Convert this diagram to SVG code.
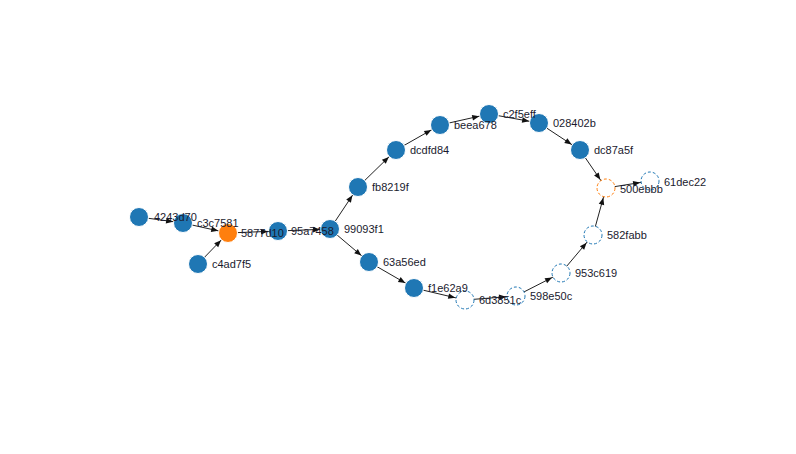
<svg xmlns="http://www.w3.org/2000/svg" width="796" height="454" viewBox="0 0 796 454">
<defs>
<marker id="arr" markerUnits="userSpaceOnUse" markerWidth="20" markerHeight="10" viewBox="0 -5 20 10" refX="17" refY="0" orient="auto" overflow="visible">
<path d="M0,-2.8L7,0L0,2.8Z" fill="#111"/>
</marker>
</defs>
<style>
.e{stroke:#222;stroke-width:1;fill:none;marker-end:url(#arr)}
.f{fill:#1f77b4;stroke:#fff;stroke-width:1}
.fo{fill:#ff7f0e;stroke:#fff;stroke-width:1}
.d{fill:#fff;stroke:#1f77b4;stroke-width:1;stroke-dasharray:3,2}
.do{fill:#fff;stroke:#ff7f0e;stroke-width:1;stroke-dasharray:3,2}
text{font-family:"Liberation Sans",Arial,sans-serif;font-size:11px;fill:#1a1a2e}
</style>
<rect width="796" height="454" fill="#fff"/>
<g id="edges">
<line class="e" x1="139" y1="217" x2="183" y2="223"/>
<line class="e" x1="183" y1="223" x2="228" y2="233"/>
<line class="e" x1="198" y1="264" x2="228" y2="233"/>
<line class="e" x1="228" y1="233" x2="278" y2="231"/>
<line class="e" x1="278" y1="231" x2="330" y2="229"/>
<line class="e" x1="330" y1="229" x2="358" y2="187"/>
<line class="e" x1="358" y1="187" x2="396" y2="150"/>
<line class="e" x1="396" y1="150" x2="440" y2="125"/>
<line class="e" x1="440" y1="125" x2="489" y2="114"/>
<line class="e" x1="489" y1="114" x2="539" y2="123"/>
<line class="e" x1="539" y1="123" x2="580" y2="150"/>
<line class="e" x1="580" y1="150" x2="606" y2="188"/>
<line class="e" x1="606" y1="188" x2="650" y2="181"/>
<line class="e" x1="593" y1="235" x2="606" y2="188"/>
<line class="e" x1="561" y1="273" x2="593" y2="235"/>
<line class="e" x1="516" y1="296" x2="561" y2="273"/>
<line class="e" x1="465" y1="300" x2="516" y2="296"/>
<line class="e" x1="414" y1="288" x2="465" y2="300"/>
<line class="e" x1="369" y1="262" x2="414" y2="288"/>
<line class="e" x1="330" y1="229" x2="369" y2="262"/>
</g>
<g id="n-99093f1"><circle class="f" cx="330" cy="229" r="9.5"/><text x="344" y="233">99093f1</text></g>
<g id="n-95a7458"><circle class="f" cx="278" cy="231" r="9.5"/><text x="291" y="235">95a7458</text></g>
<g id="n-5877d10"><circle class="fo" cx="228" cy="233" r="9.5"/><text x="241" y="237">5877d10</text></g>
<g id="n-c3c7581"><circle class="f" cx="183" cy="223" r="9.5"/><text x="197" y="227">c3c7581</text></g>
<g id="n-4243d70"><circle class="f" cx="139" cy="217" r="9.5"/><text x="154" y="221">4243d70</text></g>
<g id="n-c4ad7f5"><circle class="f" cx="198" cy="264" r="9.5"/><text x="212" y="268">c4ad7f5</text></g>
<g id="n-fb8219f"><circle class="f" cx="358" cy="187" r="9.5"/><text x="372" y="191">fb8219f</text></g>
<g id="n-dcdfd84"><circle class="f" cx="396" cy="150" r="9.5"/><text x="410" y="154">dcdfd84</text></g>
<g id="n-028402b"><circle class="f" cx="539" cy="123" r="9.5"/><text x="553" y="127">028402b</text></g>
<g id="n-c2f5eff"><circle class="f" cx="489" cy="114" r="9.5"/><text x="503" y="118">c2f5eff</text></g>
<g id="n-beea678"><circle class="f" cx="440" cy="125" r="9.5"/><text x="454" y="129">beea678</text></g>
<g id="n-dc87a5f"><circle class="f" cx="580" cy="150" r="9.5"/><text x="594" y="154">dc87a5f</text></g>
<g id="n-61dec22"><circle class="d" cx="650" cy="181" r="9"/><text x="664" y="186">61dec22</text></g>
<g id="n-500ebbb"><circle class="do" cx="606" cy="188" r="9"/><text x="620" y="193">500ebbb</text></g>
<g id="n-582fabb"><circle class="d" cx="593" cy="235" r="9"/><text x="607" y="239">582fabb</text></g>
<g id="n-953c619"><circle class="d" cx="561" cy="273" r="9"/><text x="575" y="277">953c619</text></g>
<g id="n-598e50c"><circle class="d" cx="516" cy="296" r="9"/><text x="530" y="300">598e50c</text></g>
<g id="n-6d3851c"><circle class="d" cx="465" cy="300" r="9"/><text x="479" y="304">6d3851c</text></g>
<g id="n-f1e62a9"><circle class="f" cx="414" cy="288" r="9.5"/><text x="428" y="292">f1e62a9</text></g>
<g id="n-63a56ed"><circle class="f" cx="369" cy="262" r="9.5"/><text x="383" y="266">63a56ed</text></g>
</svg>
